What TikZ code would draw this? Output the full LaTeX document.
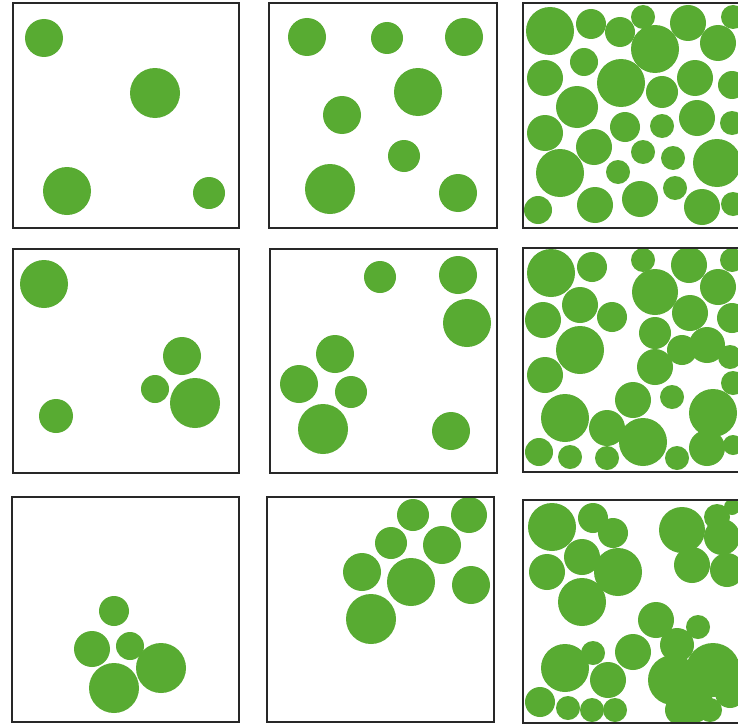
\documentclass[tikz,border=0pt]{standalone}
\usepackage{tikz}
\definecolor{ink}{RGB}{40,40,40}
\definecolor{leaf}{RGB}{88,171,50}
\tikzset{
  panel/.style={draw=ink, line width=1.8pt, fill=white},
  dot/.style={fill=leaf},
}

\begin{document}
\begin{tikzpicture}[x=1pt, y=-1pt]
  \useasboundingbox[fill=white] (0,0) rectangle (738,725);
  % row 1
  \draw[panel] (13,3) rectangle (239,228);
  \foreach \x/\y/\r in {44/38/19, 155/93/25, 67/191/24, 209/193/16}
    \fill[dot] (\x,\y) circle[radius=\r pt];
  \draw[panel] (269,3) rectangle (497,228);
  \foreach \x/\y/\r in {307/37/19, 387/38/16, 464/37/19, 418/92/24, 342/115/19, 404/156/16, 330/189/25, 458/193/19}
    \fill[dot] (\x,\y) circle[radius=\r pt];
  \draw[panel] (523,3) rectangle (760,228);
  \begin{scope}
    \clip (523,3) rectangle (760,228);
    \foreach \x/\y/\r in {550/31/24, 591/24/15, 620/32/15, 643/17/12, 655/49/24, 688/23/18, 718/43/18, 733/17/12,
        584/62/14, 545/78/18, 621/83/24, 662/92/16, 695/78/18, 732/85/14, 577/107/21, 545/133/18,
        625/127/15, 662/126/12, 697/118/18, 732/123/12, 594/147/18, 643/152/12, 673/158/12, 717/163/24,
        560/173/24, 618/172/12, 538/210/14, 595/205/18, 640/199/18, 675/188/12, 702/207/18, 733/204/12}
      \fill[dot] (\x,\y) circle[radius=\r pt];
  \end{scope}
  \draw[ink, line width=1.8pt] (523,3) rectangle (760,228);
  % row 2
  \draw[panel] (13,249) rectangle (239,473);
  \foreach \x/\y/\r in {44/284/24, 182/356/19, 155/389/14, 195/403/25, 56/416/17}
    \fill[dot] (\x,\y) circle[radius=\r pt];
  \draw[panel] (270,249) rectangle (497,473);
  \foreach \x/\y/\r in {380/277/16, 458/275/19, 467/323/24, 335/354/19, 299/384/19, 351/392/16, 323/429/25, 451/431/19}
    \fill[dot] (\x,\y) circle[radius=\r pt];
  \begin{scope}
    \clip (523,248) rectangle (760,472);
    \fill[white] (523,248) rectangle (760,472);
    \foreach \x/\y/\r in {551/273/24, 592/267/15, 643/260/12, 689/265/18, 732/260/12, 655/292/23, 718/287/18,
        580/305/18, 543/320/18, 612/317/15, 690/313/18, 732/318/15, 580/350/24, 655/333/16, 682/350/15,
        707/345/18, 730/357/12, 655/367/18, 545/375/18, 672/397/12, 633/400/18, 733/383/12, 565/418/24,
        713/413/24, 607/428/18, 643/442/24, 539/452/14, 570/457/12, 607/458/12, 677/458/12, 707/448/18, 733/445/10}
      \fill[dot] (\x,\y) circle[radius=\r pt];
  \end{scope}
  \draw[ink, line width=1.8pt] (523,248) rectangle (760,472);
  % row 3
  \draw[panel] (12,497) rectangle (239,722);
  \foreach \x/\y/\r in {114/611/15, 92/649/18, 130/646/14, 161/668/25, 114/688/25}
    \fill[dot] (\x,\y) circle[radius=\r pt];
  \draw[panel] (267,497) rectangle (494,722);
  \begin{scope}
    \clip (267,497) rectangle (494,722);
    \foreach \x/\y/\r in {413/515/16, 469/515/18, 391/543/16, 442/545/19, 362/572/19, 411/582/24, 471/585/19, 371/619/25}
      \fill[dot] (\x,\y) circle[radius=\r pt];
  \end{scope}
  \draw[ink, line width=1.8pt] (267,497) rectangle (494,722);
  \begin{scope}
    \clip (523,500) rectangle (760,723);
    \fill[white] (523,500) rectangle (760,723);
    \foreach \x/\y/\r in {552/527/24, 593/518/15, 613/533/15, 582/557/18, 547/572/18, 618/572/24, 582/602/24,
        682/530/23, 717/517/13, 722/537/18, 692/565/18, 727/570/17, 732/507/8, 656/620/18, 698/627/12,
        633/652/18, 677/645/17, 565/668/24, 593/653/12, 608/680/18, 540/702/15, 568/708/12, 592/710/12,
        615/710/12, 673/680/25, 713/670/27, 693/703/20, 680/710/15, 730/693/15, 710/710/12}
      \fill[dot] (\x,\y) circle[radius=\r pt];
  \end{scope}
  \draw[ink, line width=1.8pt] (523,500) rectangle (760,723);
\end{tikzpicture}
\end{document}
